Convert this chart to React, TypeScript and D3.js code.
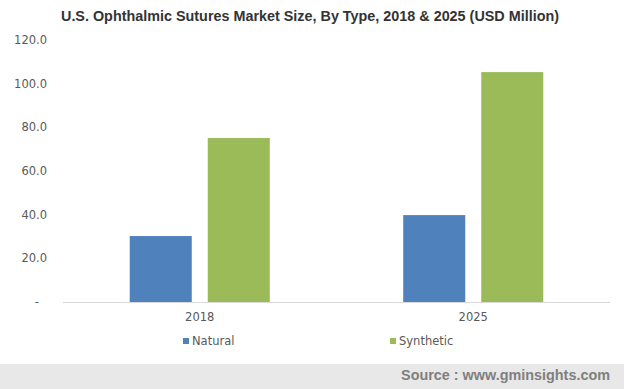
import React from "react";
import * as d3 from "d3";

const title = "U.S. Ophthalmic Sutures Market Size, By Type, 2018 & 2025 (USD Million)";
const years = ["2018", "2025"];
const seriesNames = ["Natural", "Synthetic"];
const naturalValues = [30.2, 39.8];
const syntheticValues = [75.1, 105.3];
const yTicks = [0, 20, 40, 60, 80, 100, 120];
const colors = ["#4f81bd", "#9bbb59"];
const source = "Source : www.gminsights.com";

const W = 624;
const H = 389;

export default function App() {
  const values = [naturalValues, syntheticValues];
  const y = d3.scaleLinear().domain([0, 120]).range([302, 40]);
  const x0 = d3.scaleBand().domain(years).range([63, 610]).paddingInner(0).paddingOuter(0);
  const x1 = d3
    .scaleBand()
    .domain(seriesNames)
    .range([0, x0.bandwidth()])
    .paddingInner(0.205)
    .paddingOuter(0.855);
  const fmt = (v: number) => (v === 0 ? "-" : d3.format(".1f")(v));
  const font = "'DejaVu Sans', Verdana, sans-serif";
  return (
    <div style={{ position: "absolute", left: 0, top: 0 }}>
      <svg width={W} height={H} style={{ display: "block" }}>
        <rect x={0} y={0} width={W} height={H} fill="#ffffff" />
        <text
          x={310}
          y={20.5}
          textAnchor="middle"
          fontFamily="'Liberation Sans', Arial, sans-serif"
          fontWeight="bold"
          fontSize={14.2}
          fill="#333333"
          textLength={498}
          lengthAdjust="spacingAndGlyphs"
        >
          {title}
        </text>
        {yTicks.map((t) => (
          <text
            key={t}
            x={t === 0 ? 39 : 47}
            y={y(t)}
            dy="0.35em"
            textAnchor="end"
            fontFamily={font}
            fontSize={11.5}
            fill="#595959"
          >
            {fmt(t)}
          </text>
        ))}
        {years.map((yr, i) =>
          seriesNames.map((s, j) => {
            const v = values[j][i];
            return (
              <rect
                key={yr + s}
                x={(x0(yr) as number) + (x1(s) as number)}
                y={y(v)}
                width={x1.bandwidth()}
                height={y(0) - y(v)}
                fill={colors[j]}
              />
            );
          })
        )}
        <line x1={63} x2={610} y1={y(0) + 0.5} y2={y(0) + 0.5} stroke="#d9d9d9" strokeWidth={1} />
        {years.map((yr) => (
          <text
            key={yr}
            x={(x0(yr) as number) + x0.bandwidth() / 2}
            y={317}
            dy="0.35em"
            textAnchor="middle"
            fontFamily={font}
            fontSize={11.5}
            fill="#595959"
          >
            {yr}
          </text>
        ))}
        {seriesNames.map((s, j) => {
          const lx = j === 0 ? 183 : 390;
          return (
            <g key={s}>
              <rect x={lx} y={338} width={6} height={6} fill={colors[j]} />
              <text
                x={lx + 9}
                y={341}
                dy="0.35em"
                fontFamily={font}
                fontSize={11.5}
                fill="#595959"
              >
                {s}
              </text>
            </g>
          );
        })}
        <rect x={0} y={364} width={W} height={H - 364} fill="#e8e8e8" />
        <text
          x={610}
          y={374.5}
          dy="0.35em"
          textAnchor="end"
          fontFamily="'Liberation Sans', Arial, sans-serif"
          fontWeight="bold"
          fontSize={14.4}
          fill="#7f7f7f"
        >
          {source}
        </text>
      </svg>
    </div>
  );
}
